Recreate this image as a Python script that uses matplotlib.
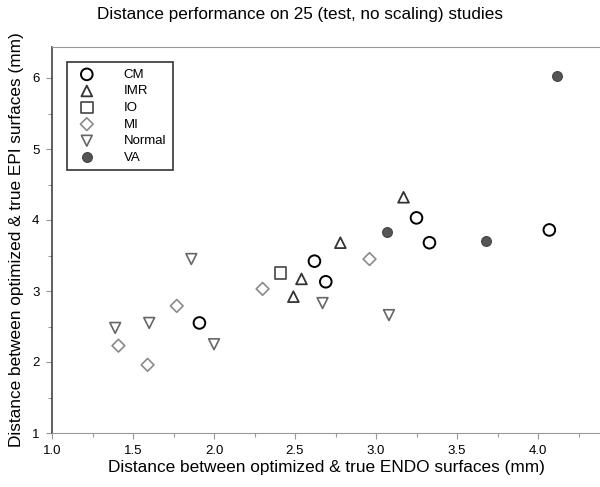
import matplotlib
matplotlib.use("Agg")
import matplotlib.pyplot as plt
from matplotlib.ticker import MultipleLocator

plt.rcParams['font.family'] = ['Liberation Sans', 'DejaVu Sans']

# study groups, x = ENDO distance (mm), y = EPI distance (mm)
cm_x = [1.91, 2.62, 2.69, 3.25, 3.33, 4.07]
cm_y = [2.55, 3.42, 3.13, 4.03, 3.68, 3.86]
imr_x = [2.49, 2.54, 2.78, 3.17]
imr_y = [2.92, 3.17, 3.68, 4.32]
io_x = [2.41]
io_y = [3.25]
mi_x = [1.41, 1.59, 1.77, 2.30, 2.96]
mi_y = [2.23, 1.96, 2.79, 3.03, 3.45]
normal_x = [1.39, 1.60, 1.86, 2.00, 2.67, 3.08]
normal_y = [2.48, 2.55, 3.45, 2.25, 2.83, 2.66]
va_x = [3.07, 3.68, 4.12]
va_y = [3.83, 3.70, 6.03]

fig = plt.figure(figsize=(6, 4.87), dpi=100)
ax = fig.add_axes([52 / 600, 1 - 433 / 487, 548 / 600, 386 / 487])

ax.scatter(cm_x, cm_y, s=70, marker='o', facecolors='none',
           edgecolors='black', linewidths=1.4, label='CM', zorder=3)
ax.scatter(imr_x, imr_y, s=60, marker='^', facecolors='none',
           edgecolors='#333333', linewidths=1.3, label='IMR', zorder=3)
ax.scatter(io_x, io_y, s=70, marker='s', facecolors='none',
           edgecolors='#444444', linewidths=1.2, label='IO', zorder=3)
ax.scatter(mi_x, mi_y, s=42, marker='D', facecolors='none',
           edgecolors='#8a8a8a', linewidths=1.2, label='MI', zorder=3)
ax.scatter(normal_x, normal_y, s=60, marker='v', facecolors='none',
           edgecolors='#666666', linewidths=1.2, label='Normal', zorder=3)
ax.scatter(va_x, va_y, s=50, marker='o', facecolors='#555555',
           edgecolors='#444444', linewidths=0.8, label='VA', zorder=3)

ax.set_xlim(1.0, 1.0 + 548 / 162)
ax.set_ylim(1.0, 1.0 + 386 / 71)
ax.xaxis.set_minor_locator(MultipleLocator(0.25))
ax.yaxis.set_major_locator(MultipleLocator(1))
ax.yaxis.set_minor_locator(MultipleLocator(0.5))
ax.set_xticks([1.0, 1.5, 2.0, 2.5, 3.0, 3.5, 4.0])
ax.set_xticklabels(['1.0', '1.5', '2.0', '2.5', '3.0', '3.5', '4.0'])
ax.tick_params(which='major', direction='out', length=4, width=0.8,
               color='#999999', labelsize=9.5, pad=5)
ax.tick_params(which='minor', direction='out', length=3, width=0.8,
               color='#999999')

ax.spines['right'].set_visible(False)
ax.spines['left'].set_color('#444444')
ax.spines['left'].set_linewidth(1.2)
ax.spines['bottom'].set_color('#999999')
ax.spines['top'].set_color('#999999')

ax.set_xlabel('Distance between optimized & true ENDO surfaces (mm)',
              fontsize=12.4, labelpad=2)
ax.set_ylabel('Distance between optimized & true EPI surfaces (mm)',
              fontsize=12.4, labelpad=6)
fig.suptitle('Distance performance on 25 (test, no scaling) studies',
             fontsize=12.3, x=0.5, y=0.985)

leg = ax.legend(loc='upper left', bbox_to_anchor=(15 / 548, 1 - 15 / 386),
                fontsize=9.5, frameon=True, fancybox=False, framealpha=1,
                borderpad=0.5, labelspacing=0.33, handletextpad=1.8,
                borderaxespad=0)
leg.get_frame().set_edgecolor('#333333')
leg.get_frame().set_linewidth(1.2)

fig.savefig('out.png', dpi=100)
